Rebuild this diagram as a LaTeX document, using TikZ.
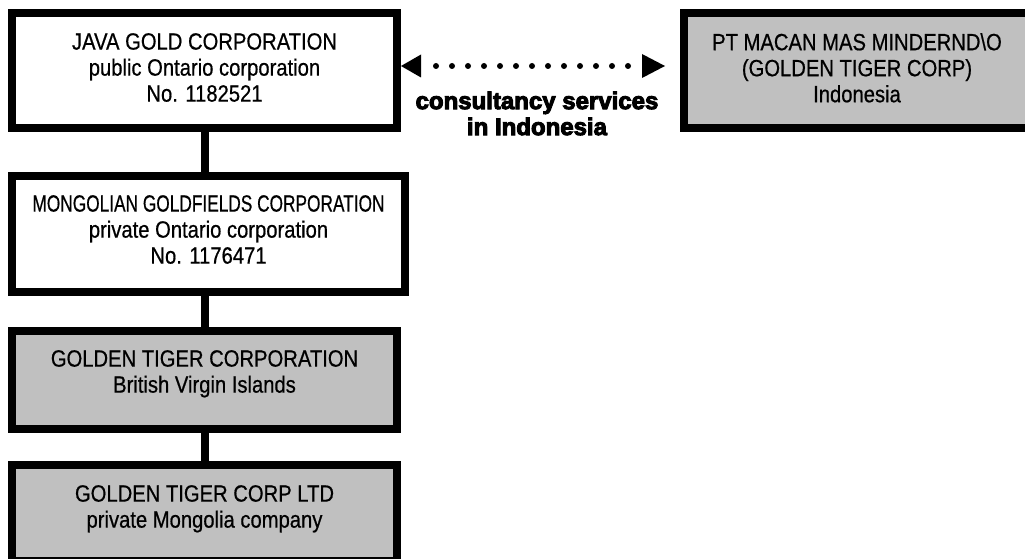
\documentclass[tikz,border=0pt]{standalone}
\usepackage{fontspec}
\setmainfont{Liberation Sans}
\newfontfamily\boxfont{Liberation Sans}[FakeStretch=0.86,FakeBold=0.6]
\newfontfamily\lblfont{Liberation Sans}[BoldFeatures={FakeBold=4}]
\usetikzlibrary{arrows.meta}
\definecolor{boxgray}{HTML}{C0C0C0}
\begin{document}
\begin{tikzpicture}[x=1pt,y=-1pt,
  corpbox/.style={draw=black, line width=8pt, inner sep=0pt},
  whitebox/.style={corpbox, fill=white},
  graybox/.style={corpbox, fill=boxgray},
  boxtext/.style={inner sep=0pt, anchor=north, align=center,
    font=\boxfont\fontsize{23.5}{26}\selectfont},
  vline/.style={draw=black, line width=8pt},
  dotarrow/.style={draw=black, line width=6pt, line cap=round,
    dash pattern=on 0pt off 16pt, dash phase=1pt,
    {Triangle[length=20pt,width=23pt,line width=0pt]}-{Triangle[length=23pt,width=24pt,line width=0pt]},
    shorten >=15pt},
  lbl/.style={inner sep=0pt, align=center,
    font=\lblfont\bfseries\fontsize{24}{26}\selectfont}
]
\useasboundingbox (0,0) rectangle (1025,559);
\clip (0,0) rectangle (1025,559);
\fill[white] (0,0) rectangle (1025,559);

\node[whitebox, minimum width=385pt, minimum height=115pt] (b1) at (204.5,70.5) {};
\node[whitebox, minimum width=393pt, minimum height=116pt] (b2) at (208.5,234) {};
\node[graybox, minimum width=385pt, minimum height=98pt] (b3) at (204.5,380) {};
\node[graybox, minimum width=385pt, minimum height=96pt] (b4) at (204.5,513) {};
\node[graybox, minimum width=346pt, minimum height=115pt] (bR) at (857,70.5) {};

\node[boxtext] (t1) at ([yshift=-24pt]b1.north) {JAVA GOLD CORPORATION\\public Ontario corporation\\No. 1182521};
\node[boxtext] (t2) at ([yshift=-23pt]b2.north) {\scalebox{0.855}[1]{MONGOLIAN GOLDFIELDS CORPORATION}\\private Ontario corporation\\No. 1176471};
\node[boxtext] (t3) at ([yshift=-23pt]b3.north) {GOLDEN TIGER CORPORATION\\British Virgin Islands};
\node[boxtext] (t4) at ([yshift=-24pt]b4.north) {GOLDEN TIGER CORP LTD\\private Mongolia company};
\node[boxtext] (tR) at ([yshift=-24pt]bR.north) {PT MACAN MAS MINDERND\textbackslash O\\(GOLDEN TIGER CORP)\\Indonesia};

\draw[vline] (b1.south) -- (b1.south |- b2.north);
\draw[vline] (b3.north |- b2.south) -- (b3.north);
\draw[vline] (b3.south) -- (b4.north);

\draw[dotarrow] ([yshift=4.5pt]b1.east) -- ([yshift=4.5pt]bR.west);
\node[lbl] (lab) at (537,113.5) {consultancy services\\in Indonesia};
\end{tikzpicture}
\end{document}
